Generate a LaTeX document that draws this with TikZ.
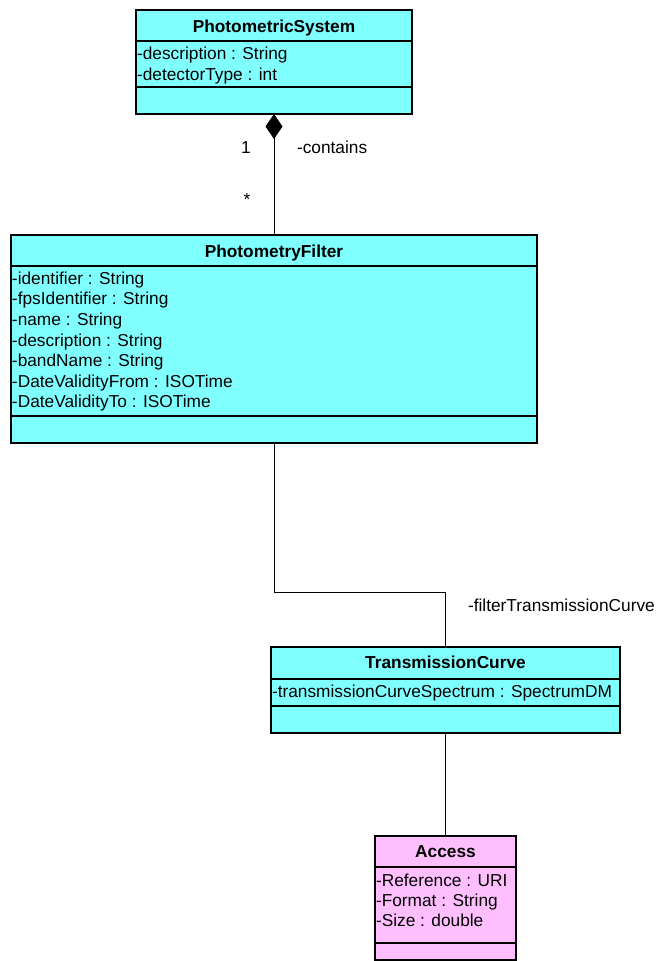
\documentclass[tikz,border=0pt]{standalone}
\usepackage{fontspec}
\setmainfont{Liberation Sans}
\usetikzlibrary{arrows.meta}
\definecolor{classcyan}{RGB}{128,255,255}
\definecolor{classpink}{RGB}{255,191,255}
\begin{document}
\begin{tikzpicture}[x=1pt,y=-1pt,
  every node/.style={font=\fontsize{17.3}{20.6}\selectfont, inner sep=0pt, outer sep=0pt,
    text height=16pt, text depth=3.6pt},
  classbox/.style={draw=black, line width=1.2pt, anchor=north west, rectangle,
    text height=, text depth=},
  divider/.style={line width=1.2pt},
  title/.style={font=\fontsize{17.3}{20.6}\selectfont\bfseries},
  attr/.style={anchor=west},
  lbl/.style={anchor=west},
  link/.style={line width=0.9pt}]
\useasboundingbox[fill=white] (0,0) rectangle (659,961);

% PhotometricSystem
\node[classbox, fill=classcyan, minimum width=276pt, minimum height=104pt] (ps) at (136,10) {};
\draw[divider] (136,41) -- (412,41);
\draw[divider] (136,87) -- (412,87);
\node[title] (pst) at (274,26) {PhotometricSystem};
\node[attr] (psa1) at (137,53) {-description : String};
\node[attr] (psa2) at (137,74) {-detectorType : int};

% PhotometryFilter
\node[classbox, fill=classcyan, minimum width=526pt, minimum height=208pt] (pf) at (11,235) {};
\draw[divider] (11,266) -- (537,266);
\draw[divider] (11,416) -- (537,416);
\node[title] (pft) at (274,251) {PhotometryFilter};
\node[attr] (pfa1) at (12,278) {-identifier : String};
\node[attr] (pfa2) at (12,298.6) {-fpsIdentifier : String};
\node[attr] (pfa3) at (12,319.2) {-name : String};
\node[attr] (pfa4) at (12,339.8) {-description : String};
\node[attr] (pfa5) at (12,360.4) {-bandName : String};
\node[attr] (pfa6) at (12,381) {-DateValidityFrom : ISOTime};
\node[attr] (pfa7) at (12,401.6) {-DateValidityTo : ISOTime};

% TransmissionCurve
\node[classbox, fill=classcyan, minimum width=349pt, minimum height=86pt] (tc) at (271,647) {};
\draw[divider] (271,679) -- (620,679);
\draw[divider] (271,706) -- (620,706);
\node[title] (tct) at (445.5,662) {TransmissionCurve};
\node[attr] (tca1) at (272,691) {-transmissionCurveSpectrum : SpectrumDM};

% Access
\node[classbox, fill=classpink, minimum width=141pt, minimum height=124pt] (ac) at (375,836) {};
\draw[divider] (375,867) -- (516,867);
\draw[divider] (375,943) -- (516,943);
\node[title] (act) at (445.5,851) {Access};
\node[attr] (aca1) at (376,880) {-Reference : URI};
\node[attr] (aca2) at (376,900) {-Format : String};
\node[attr] (aca3) at (376,920) {-Size : double};

% composition PhotometricSystem -> PhotometryFilter
\draw[link, {Diamond[length=25pt,width=17pt,fill=black]}-] (ps.south) -- (pf.north);
\node (m1) at (246,147) {1};
\node (m2) at (247,199) {*};
\node[lbl] (r1) at (297,147) {-contains};

% association PhotometryFilter -> TransmissionCurve
\coordinate (bend) at (0,592);
\draw[link] (pf.south) -- (pf.south |- bend) -| (tc.north);
\node[lbl] (r2) at (468,605) {-filterTransmissionCurve};

% association TransmissionCurve -> Access
\draw[link] (tc.south) -- (ac.north);
\end{tikzpicture}
\end{document}
